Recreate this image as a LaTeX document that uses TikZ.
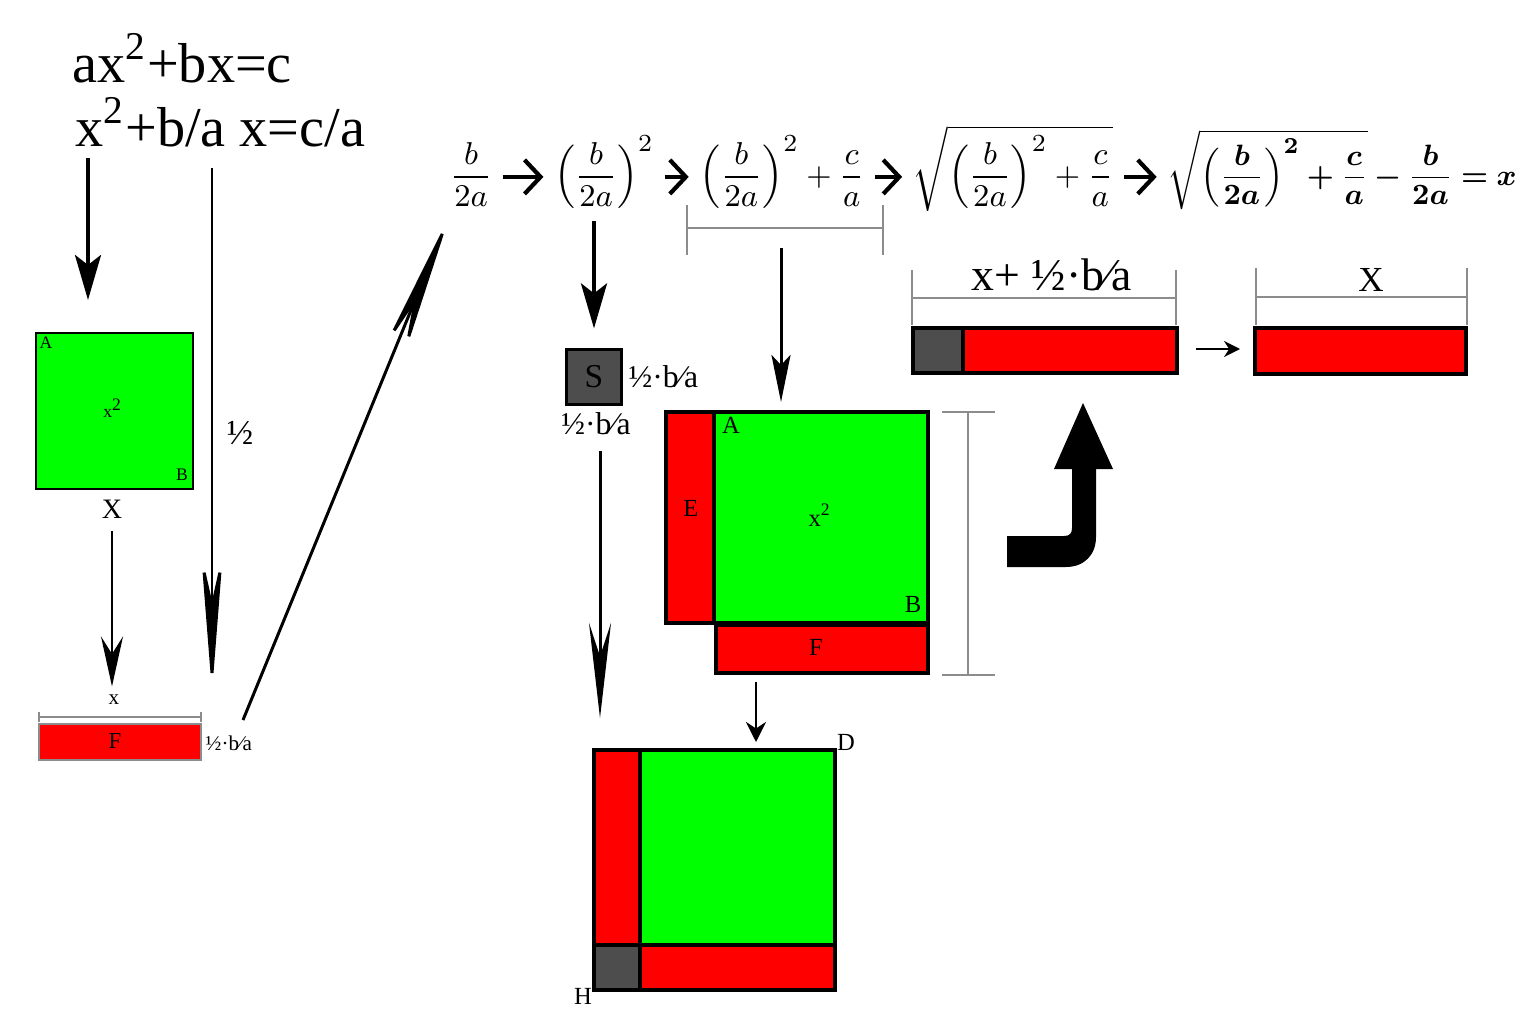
\documentclass[tikz,border=0pt]{standalone}
\usepackage{fontspec}
\usepackage{bm}
\setmainfont{Liberation Serif}
\usetikzlibrary{arrows.meta}

\definecolor{verde}{RGB}{0,255,0}
\definecolor{rojo}{RGB}{255,0,0}
\definecolor{gris}{RGB}{77,77,77}
\definecolor{cota}{RGB}{140,140,140}

\tikzset{
	rot/.style={font=\fontsize{#1}{#1}\selectfont, inner sep=0pt},
	lado/.style={draw=black, line width=1.2pt},
	medida/.style={draw=cota, line width=0.5pt},
	formula/.style={font=\fontsize{9.5}{11}\selectfont, inner sep=0pt},
	flecha/.style={line width=1.1pt, -{Stealth[length=4.5mm,width=2.6mm,inset=1mm]}},
	flechalarga/.style={line width=0.85pt, -{Stealth[length=#1,width=2.2mm,inset=0.35*#1]}},
	flechalarga/.default=14mm,
	paso/.style={line width=1.2pt, -{Straight Barb[length=1.6mm,width=3.4mm]}},
}

\begin{document}
\begin{tikzpicture}[x=0.01cm,y=-0.01cm]
\useasboundingbox (0,0) rectangle (1536,1024);
\fill[white] (0,0) rectangle (1536,1024);

% Ecuaciones
	\node[rot=16, anchor=base west] (eq1) at (72,82) {ax\textsuperscript{2}+bx=c};
	\node[rot=16, anchor=base west] (eq2) at (75,146) {x\textsuperscript{2}+b/a x=c/a};

% Cuadrado x^2
	\draw[fill=verde, line width=0.7pt] (36,333) rectangle (193,489);
	\node[rot=5] (qa) at (46,343) {A};
	\node[rot=5] (qb) at (182,475) {B};
	\node[rot=5] (qx) at (113,408) {x\textsuperscript{2}};
	\node[rot=8] (qX) at (112,509) {X};

	\coordinate (a1i) at (88,158);
	\coordinate (a1f) at (88,300);
	\draw[flecha] (a1i) -- (a1f);

	\coordinate (a2i) at (212,168);
	\coordinate (a2f) at (212,692);
	\draw[flechalarga] (a2i) -- (a2f);
	\node[rot=10] (medio) at (240,433) {½};

% Barra F
	\node[rot=6] (xs) at (114,700) {x};
	\draw[flechalarga=5mm, shorten <=1.2mm, shorten >=0.8mm] (qX.south) -- (qX.south |- xs.north);
	\draw[medida] (39,717) -- (201,717);
	\foreach \x in {39,201}
		\draw[medida] (\x,712) -- (\x,722);
	\draw[fill=rojo, draw=cota, line width=0.3pt] (39,724) rectangle (201,760);
	\node[rot=6.5] (fl) at (115,741) {F};
	\node[rot=6, anchor=west] (bl) at (205,743) {½·b⁄a};

	\coordinate (a3i) at (243,720);
	\coordinate (a3f) at (450,215);
	\draw[flechalarga=15mm] (a3i) -- (a3f);

% Cadena de formulas
	\node[formula, anchor=base] (f1) at (471,185) {$\displaystyle\frac{b}{2a}$};
	\node[formula, anchor=base] (f2) at (604,185) {$\displaystyle\left(\frac{b}{2a}\right)^{2}$};
	\node[formula, anchor=base] (f3) at (782,185) {$\displaystyle\left(\frac{b}{2a}\right)^{2}+\frac{c}{a}$};
	\node[formula, anchor=base] (f4) at (1013,185) {$\displaystyle\sqrt{\left(\frac{b}{2a}\right)^{2}+\frac{c}{a}}$};
	\node[formula, anchor=base] (f5) at (1342,185)
		{\scalebox{0.93}{$\displaystyle\sqrt{\left(\frac{\bm{b}}{\bm{2a}}\right)^{\bm{2}}\bm{+}\frac{\bm{c}}{\bm{a}}}\bm{-}\frac{\bm{b}}{\bm{2a}}\bm{=}\bm{x}$}};

	\foreach \a/\b in {f1/f2, f2/f3, f3/f4, f4/f5}
		\draw[paso, shorten <=1mm, shorten >=1mm] ([yshift=2.3pt]\a.base east) -- ([yshift=2.3pt]\b.base west);

	\draw[medida] (687,228) -- (883,228);
	\foreach \x in {687,883}
		\draw[medida] (\x,205) -- (\x,255);

% Cuadrado S
	\node[draw, fill=gris, line width=0.6pt, minimum size=0.55cm, inner sep=0pt,
		font=\fontsize{9.5}{10}\selectfont] (S) at (594,377) {S};
	\node[rot=9, anchor=west] (sr) at (628,377) {½·b⁄a};
	\node[rot=9] (sb) at (596,424) {½·b⁄a};
	\draw[flecha, shorten <=1.2mm, shorten >=2mm] (S |- f2.south) -- (S.north);

	\coordinate (a4f) at (600,718);
	\draw[flechalarga=9.5mm, shorten <=1.5mm] (sb.south -| a4f) -- (a4f);

% Figura central
	\coordinate (a5i) at (781,248);
	\coordinate (a5f) at (781,402);
	\draw[line width=0.85pt, -{Stealth[length=4.7mm,width=1.9mm,inset=1mm]}] (a5i) -- (a5f);

	\draw[lado, fill=rojo] (666,412) rectangle (714,623);
	\draw[lado, fill=verde] (714,412) rectangle (928,623);
	\draw[lado, fill=rojo] (716,625) rectangle (928,673);
	\node[rot=7] (ma) at (731,425) {A};
	\node[rot=7] (mx) at (820,515) {x\textsuperscript{2}};
	\node[rot=7] (mb) at (913,604) {B};
	\node[rot=7] (me) at (691,508) {E};
	\node[rot=7] (mf) at (816,647) {F};

	\draw[medida] (968,412) -- (968,675);
	\foreach \y in {412,675}
		\draw[medida] (942,\y) -- (995,\y);

	\coordinate (a6i) at (756,682);
	\coordinate (a6f) at (756,742);
	\draw[line width=0.7pt, -{Stealth[length=2mm,width=2mm]}] (a6i) -- (a6f);

% Figura inferior
	\draw[lado, fill=rojo] (594,750) rectangle (640,945);
	\draw[lado, fill=verde] (640,750) rectangle (835,945);
	\draw[lado, fill=gris] (594,945) rectangle (640,990);
	\draw[lado, fill=rojo] (640,945) rectangle (835,990);
	\node[rot=7] (pd) at (846,742) {D};
	\node[rot=7] (ph) at (583,996) {H};

% Barras de la derecha
	\node[rot=13] (tx) at (1052,275) {x+ ½·b⁄a};
	\draw[medida] (912,298) -- (1176,298);
	\foreach \x in {912,1176}
		\draw[medida] (\x,270) -- (\x,325);
	\draw[lado, fill=gris] (913,328) rectangle (963,373);
	\draw[lado, fill=rojo] (963,328) rectangle (1177,373);

	\coordinate (a7i) at (1196,349);
	\coordinate (a7f) at (1240,349);
	\draw[line width=0.6pt, -{Stealth[length=1.6mm,width=1.6mm]}] (a7i) -- (a7f);

	\node[rot=10] (tX) at (1371,280) {X};
	\draw[medida] (1256,297) -- (1467,297);
	\foreach \x in {1256,1467}
		\draw[medida] (\x,268) -- (\x,325);
	\draw[lado, fill=rojo] (1255,328) rectangle (1466,374);

% Flecha grande
	\fill[black] (1007,567) -- (1066,567) .. controls (1084,567) and (1096,555) .. (1096,537)
		-- (1096,469) -- (1113,469) -- (1083,403) -- (1054,469) -- (1072,469) -- (1072,528)
		.. controls (1072,533) and (1070,536) .. (1064,536) -- (1007,536) -- cycle;

\end{tikzpicture}
\end{document}
